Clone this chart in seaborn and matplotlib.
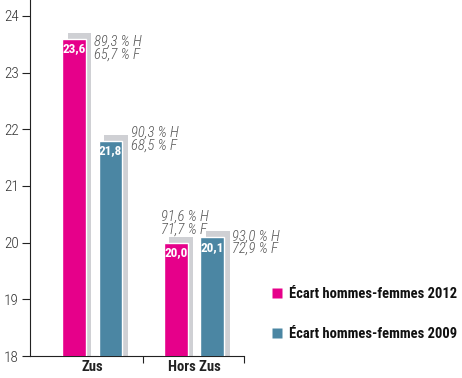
import matplotlib
matplotlib.use("Agg")
import matplotlib.pyplot as plt
import seaborn as sns
import pandas as pd
from matplotlib.patches import Rectangle
from matplotlib.lines import Line2D

categories = ["Zus", "Hors Zus"]
series = ["Écart hommes-femmes 2012", "Écart hommes-femmes 2009"]
values_2012 = [23.6, 20.0]
values_2009 = [21.8, 20.1]
pct_h_2012 = ["89,3 % H", "91,6 % H"]
pct_f_2012 = ["65,7 % F", "71,7 % F"]
pct_h_2009 = ["90,3 % H", "93,0 % H"]
pct_f_2009 = ["68,5 % F", "72,9 % F"]
yticks = [18, 19, 20, 21, 22, 23, 24]

colors = ["#e6008a", "#4b86a3"]
shadow = "#cfd0d4"

df = pd.DataFrame({
    "cat": categories * 2,
    "serie": [series[0]] * 2 + [series[1]] * 2,
    "val": values_2012 + values_2009,
})

sns.set_theme(style="white")
plt.rcParams["font.family"] = ["Roboto Condensed", "DejaVu Sans"]

fig = plt.figure(figsize=(4.62, 3.78), dpi=100)
ax = fig.add_axes([30 / 462, 1 - 356 / 378, 214 / 462, 356 / 378])

sns.barplot(data=df, x="cat", y="val", hue="serie", order=categories,
            hue_order=series, palette=colors, width=0.72, gap=0.35,
            saturation=1, ax=ax, legend=False, zorder=3)

ax.set_ylim(18, 24.28)
ax.set_xlim(-0.61, 1.49)

bars = [p for p in ax.patches]
offset = 0.055
for p in bars:
    x, w, h = p.get_x(), p.get_width(), p.get_height()
    ax.add_patch(Rectangle((x + offset, 0), w, h + 0.1, color=shadow,
                           zorder=2, lw=0))

vals = values_2012 + values_2009
for p, v in zip(bars, vals):
    cx = p.get_x() + p.get_width() / 2
    ax.text(cx, v - 0.07, f"{v:.1f}".replace(".", ","), ha="center", va="top",
            color="white", fontweight="bold", fontsize=9.5, zorder=5)

ann = [
    (bars[0], pct_h_2012[0], pct_f_2012[0], 0.085, -0.17),
    (bars[1], pct_h_2012[1], pct_f_2012[1], -0.26, 0.34),
    (bars[2], pct_h_2009[0], pct_f_2009[0], 0.085, 0.02),
    (bars[3], pct_h_2009[1], pct_f_2009[1], 0.075, -0.10),
]
for p, th, tf, dx, dy in ann:
    x = p.get_x() + p.get_width() + dx
    y = p.get_height() + dy
    ax.text(x, y, th + "\n" + tf, ha="left", va="center", color="#555555",
            fontstyle="italic", fontweight="light", fontsize=10.5,
            linespacing=0.9, zorder=5)

ax.set_yticks(yticks)
ax.set_yticklabels([str(t) for t in yticks], fontsize=11, color="#333333",
                   fontweight="light")
ax.set_xticks([0, 1])
ax.set_xticklabels(categories, fontsize=10.5, fontweight="bold", color="#222222")
ax.tick_params(axis="x", length=0, pad=3)
ax.tick_params(axis="y", length=6, width=0.8, color="#222222", direction="out",
               left=True, pad=2)
ax.set_xticks([0.5, 1.49], minor=True)
ax.tick_params(axis="x", which="minor", length=5, width=0.8, color="#222222",
               direction="out", bottom=True)

ax.set_xlabel("")
ax.set_ylabel("")
for s in ["top", "right"]:
    ax.spines[s].set_visible(False)
for s in ["left", "bottom"]:
    ax.spines[s].set_color("#222222")
    ax.spines[s].set_linewidth(0.8)

handles = [Line2D([0], [0], marker="s", color="none", markerfacecolor=c,
                  markeredgecolor="none", markersize=7) for c in colors]
leg = fig.legend(handles, series, loc="upper left",
                 bbox_to_anchor=(258 / 462, 1 - 274 / 378), frameon=False,
                 handlelength=0.8, handletextpad=0.4, labelspacing=1.75,
                 prop={"weight": "bold", "size": 10.5})
for t in leg.get_texts():
    t.set_color("#111111")

fig.savefig("out.png", dpi=100)
